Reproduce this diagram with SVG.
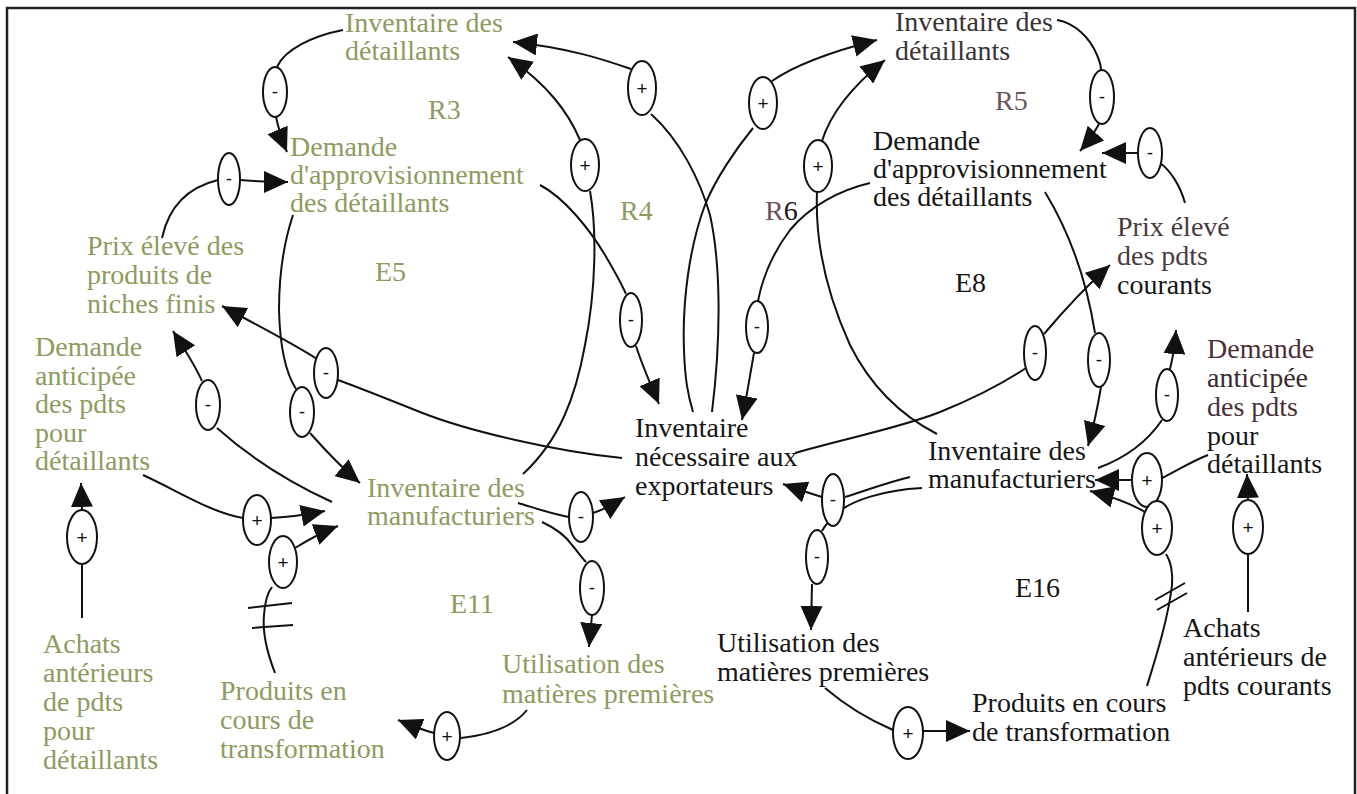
<svg xmlns="http://www.w3.org/2000/svg" width="1357" height="794" viewBox="0 0 1357 794">
  <defs>
    <marker id="ah" viewBox="0 0 24 22" refX="24" refY="11" markerWidth="24" markerHeight="22" markerUnits="userSpaceOnUse" orient="auto">
      <path d="M0,0 L24,11 L0,22 Z" fill="#111"/>
    </marker>
    <style>
      .lbl { font-family: "Liberation Serif", "Times New Roman", serif; font-size: 28px; }
      .g { fill: #8d9b5f; }
      .k { fill: #161616; }
      .wire { fill: none; stroke: #111; stroke-width: 2; }
      .arr { marker-end: url(#ah); }
      .pol ellipse { fill: #fff; stroke: #111; stroke-width: 2; }
      .pol text { font-family: "Liberation Sans", Arial, sans-serif; font-size: 19px; text-anchor: middle; fill: #111; }
      .frame { fill: none; stroke: #222; stroke-width: 2.5; }
    </style>
  </defs>

  <rect width="1357" height="794" fill="#fff"/>
  <path class="frame" d="M7,794 L7,8 L1355,8 L1355,794"/>

  <!-- causal links -->
  <g id="connectors">
    <!-- links: source -> polarity oval -> target -->
    <path class="wire" d="M343,30 C312,36 284,50 277,67"/>
    <path class="wire arr" d="M276,117 C278,126 281,138 287,152"/>

    <path class="wire" d="M162,238 C168,210 185,188 218,180"/>
    <path class="wire arr" d="M240,180 C255,181 268,182 288,182"/>

    <path class="wire" d="M293,215 C283,245 279,280 279,310 C280,350 287,375 296,389"/>
    <path class="wire arr" d="M310,433 C325,450 342,468 360,483"/>

    <path class="wire" d="M622,458 C560,452 470,432 420,412 C380,396 352,385 338,380"/>
    <path class="wire arr" d="M317,359 C292,343 262,328 222,306"/>

    <path class="wire" d="M332,502 C295,485 255,462 217,428"/>
    <path class="wire arr" d="M202,381 C195,365 185,350 173,331"/>

    <path class="wire" d="M143,475 C180,492 210,512 243,518"/>
    <path class="wire arr" d="M271,518 C290,517 305,515 325,511"/>

    <path class="wire" d="M275,673 C268,655 262,635 264,615 C265,600 268,592 272,587"/>
    <path class="wire" d="M248,608 L292,603 M252,628 L293,625"/>
    <path class="wire arr" d="M295,548 C308,540 322,532 338,526"/>

    <path class="wire" d="M82,618 L82,564"/>
    <path class="wire arr" d="M82,510 L81,483"/>

    <path class="wire" d="M518,503 C535,508 552,514 569,517"/>
    <path class="wire arr" d="M593,513 C603,510 612,505 625,497"/>

    <path class="wire" d="M542,522 C555,528 565,535 572,545 C578,552 582,558 586,562"/>
    <path class="wire arr" d="M592,615 L589,647"/>

    <path class="wire" d="M527,710 C515,725 495,734 461,738"/>
    <path class="wire arr" d="M434,733 C422,730 410,725 398,720"/>

    <path class="wire arr" d="M631,69 C605,60 570,48 513,42"/>
    <path class="wire" d="M651,114 C680,140 700,180 710,215 C720,260 722,330 712,412"/>

    <path class="wire arr" d="M772,81 C795,65 830,52 877,40"/>
    <path class="wire" d="M753,128 C735,150 715,180 705,205 C690,245 682,300 684,350 C685,380 688,395 693,412"/>

    <path class="wire arr" d="M580,140 C568,112 548,85 508,57"/>
    <path class="wire" d="M590,191 C597,230 596,290 585,345 C576,395 560,440 523,474"/>

    <path class="wire" d="M540,185 C565,198 590,230 605,255 C615,272 622,285 626,294"/>
    <path class="wire arr" d="M636,346 C642,365 650,383 659,404"/>

    <path class="wire" d="M870,183 C840,190 810,206 790,230 C772,254 762,280 758,301"/>
    <path class="wire arr" d="M754,353 C750,375 747,395 742,420"/>

    <path class="wire arr" d="M822,141 C830,115 850,88 885,60"/>
    <path class="wire" d="M817,192 C815,240 825,290 850,345 C870,385 900,415 937,434"/>

    <path class="wire" d="M1045,192 C1065,225 1085,270 1095,333"/>
    <path class="wire arr" d="M1101,387 C1098,405 1094,425 1088,446"/>

    <path class="wire" d="M795,453 C850,437 900,428 940,412 C975,398 1005,382 1026,368"/>
    <path class="wire arr" d="M1044,334 C1060,315 1080,292 1110,265"/>

    <path class="wire" d="M1098,468 C1120,460 1145,445 1162,420"/>
    <path class="wire arr" d="M1170,369 C1173,357 1175,345 1176,330"/>

    <path class="wire" d="M1208,455 C1190,462 1175,472 1162,478"/>
    <path class="wire arr" d="M1132,480 L1095,480"/>

    <path class="wire" d="M1147,686 C1155,660 1168,620 1172,585 C1173,570 1170,560 1166,554"/>
    <path class="wire" d="M1155,600 L1185,583 M1157,610 L1187,593"/>
    <path class="wire arr" d="M1145,512 C1128,502 1110,496 1090,491"/>

    <path class="wire" d="M1248,612 L1248,555"/>
    <path class="wire arr" d="M1248,500 L1247,474"/>

    <path class="wire" d="M910,477 C885,483 862,492 845,497"/>
    <path class="wire arr" d="M822,497 C812,494 800,490 783,484"/>

    <path class="wire" d="M922,488 C885,490 850,500 835,515 C828,522 824,527 822,531"/>
    <path class="wire arr" d="M812,584 L811,630"/>

    <path class="wire" d="M825,688 C845,705 865,718 893,730"/>
    <path class="wire arr" d="M923,731 L970,731"/>

    <path class="wire" d="M1057,20 C1075,23 1090,38 1097,55 C1100,62 1101,67 1101,70"/>
    <path class="wire arr" d="M1099,124 C1094,133 1088,142 1080,151"/>

    <path class="wire" d="M1185,203 C1180,185 1170,170 1160,163"/>
    <path class="wire arr" d="M1138,153 L1102,153"/>

    <!-- polarity signs -->
    <g class="pol">
      <ellipse cx="275" cy="92" rx="12" ry="25"/><text x="275" y="98">-</text>
      <ellipse cx="229" cy="179" rx="11" ry="26"/><text x="229" y="185">-</text>
      <ellipse cx="302" cy="412" rx="12" ry="25"/><text x="302" y="418">-</text>
      <ellipse cx="326" cy="373" rx="12" ry="25"/><text x="326" y="379">-</text>
      <ellipse cx="208" cy="405" rx="12" ry="25"/><text x="208" y="411">-</text>
      <ellipse cx="257" cy="520" rx="14" ry="25"/><text x="257" y="527">+</text>
      <ellipse cx="283" cy="562" rx="14" ry="26"/><text x="283" y="569">+</text>
      <ellipse cx="82" cy="537" rx="15" ry="27"/><text x="82" y="544">+</text>
      <ellipse cx="581" cy="517" rx="12" ry="25"/><text x="581" y="523">-</text>
      <ellipse cx="592" cy="588" rx="12" ry="27"/><text x="592" y="594">-</text>
      <ellipse cx="447" cy="736" rx="13" ry="24"/><text x="447" y="743">+</text>
      <ellipse cx="642" cy="88" rx="14" ry="27"/><text x="642" y="95">+</text>
      <ellipse cx="763" cy="103" rx="14" ry="26"/><text x="763" y="110">+</text>
      <ellipse cx="585" cy="165" rx="14" ry="26"/><text x="585" y="172">+</text>
      <ellipse cx="631" cy="320" rx="11" ry="27"/><text x="631" y="326">-</text>
      <ellipse cx="757" cy="327" rx="11" ry="26"/><text x="757" y="333">-</text>
      <ellipse cx="818" cy="166" rx="14" ry="26"/><text x="818" y="173">+</text>
      <ellipse cx="1099" cy="360" rx="11" ry="27"/><text x="1099" y="366">-</text>
      <ellipse cx="1035" cy="353" rx="11" ry="27"/><text x="1035" y="359">-</text>
      <ellipse cx="1167" cy="395" rx="11" ry="26"/><text x="1167" y="401">-</text>
      <ellipse cx="1147" cy="480" rx="15" ry="27"/><text x="1147" y="487">+</text>
      <ellipse cx="1157" cy="528" rx="15" ry="27"/><text x="1157" y="535">+</text>
      <ellipse cx="1248" cy="527" rx="15" ry="27"/><text x="1248" y="534">+</text>
      <ellipse cx="833" cy="500" rx="11" ry="26"/><text x="833" y="506">-</text>
      <ellipse cx="817" cy="557" rx="11" ry="27"/><text x="817" y="563">-</text>
      <ellipse cx="908" cy="733" rx="15" ry="26"/><text x="908" y="740">+</text>
      <ellipse cx="1102" cy="97" rx="12" ry="27"/><text x="1102" y="103">-</text>
      <ellipse cx="1150" cy="153" rx="12" ry="25"/><text x="1150" y="159">-</text>
    </g>
  </g>

  <!-- variables -->
  <g id="n-inv-det-l"><text class="lbl g" font-size="29"><tspan x="345" y="32">Inventaire des</tspan><tspan x="345" y="60">détaillants</tspan></text></g>
  <g id="n-dem-appro-l"><text class="lbl g" font-size="29"><tspan x="290" y="156">Demande</tspan><tspan x="290" y="184">d'approvisionnement</tspan><tspan x="290" y="212">des détaillants</tspan></text></g>
  <g id="n-prix-niches"><text class="lbl g"><tspan x="87" y="255">Prix élevé des</tspan><tspan x="87" y="284">produits de</tspan><tspan x="87" y="313">niches finis</tspan></text></g>
  <g id="n-dem-antic-l"><text class="lbl g" font-size="29"><tspan x="35" y="356">Demande</tspan><tspan x="35" y="385">anticipée</tspan><tspan x="35" y="413">des pdts</tspan><tspan x="35" y="442">pour</tspan><tspan x="35" y="470">détaillants</tspan></text></g>
  <g id="n-achats-l"><text class="lbl g" font-size="29"><tspan x="43" y="653">Achats</tspan><tspan x="43" y="682">antérieurs</tspan><tspan x="43" y="711">de pdts</tspan><tspan x="43" y="740">pour</tspan><tspan x="43" y="769">détaillants</tspan></text></g>
  <g id="n-produits-l"><text class="lbl g" font-size="27.5"><tspan x="220" y="700">Produits en</tspan><tspan x="220" y="729">cours de</tspan><tspan x="220" y="758">transformation</tspan></text></g>
  <g id="n-inv-manu-l"><text class="lbl g" font-size="27.5"><tspan x="367" y="497">Inventaire des</tspan><tspan x="367" y="525">manufacturiers</tspan></text></g>
  <g id="n-util-l"><text class="lbl g"><tspan x="502" y="673">Utilisation des</tspan><tspan x="502" y="703">matières premières</tspan></text></g>

  <g id="n-inv-export"><text class="lbl k" font-size="27.5"><tspan x="635" y="437">Inventaire</tspan><tspan x="635" y="466">nécessaire aux</tspan><tspan x="635" y="495">exportateurs</tspan></text></g>

  <g id="n-inv-det-r"><text class="lbl" fill="#3a3336" font-size="28.5"><tspan x="895" y="31">Inventaire des</tspan><tspan x="895" y="60">détaillants</tspan></text></g>
  <g id="n-dem-appro-r"><text class="lbl k"><tspan x="873" y="150">Demande</tspan><tspan x="873" y="178">d'approvisionnement</tspan><tspan x="873" y="206">des détaillants</tspan></text></g>
  <g id="n-prix-courants"><text class="lbl" font-size="28.5"><tspan x="1117" y="236" fill="#4a3a40">Prix élevé</tspan><tspan x="1117" y="265" fill="#4a3a40">des pdts</tspan><tspan x="1117" y="294" fill="#161616">courants</tspan></text></g>
  <g id="n-dem-antic-r"><text class="lbl"><tspan x="1207" y="358" fill="#4a3036">Demande</tspan><tspan x="1207" y="387" fill="#3a2a30">anticipée</tspan><tspan x="1207" y="416" fill="#4a3036">des pdts</tspan><tspan x="1207" y="445" fill="#161616">pour</tspan><tspan x="1207" y="473" fill="#161616">détaillants</tspan></text></g>
  <g id="n-inv-manu-r"><text class="lbl k" font-size="27.8"><tspan x="928" y="460">Inventaire des</tspan><tspan x="928" y="488">manufacturiers</tspan></text></g>
  <g id="n-util-r"><text class="lbl k" font-size="27.7"><tspan x="717" y="652">Utilisation des</tspan><tspan x="717" y="681">matières premières</tspan></text></g>
  <g id="n-produits-r"><text class="lbl k" font-size="27.7"><tspan x="972" y="712">Produits en cours</tspan><tspan x="972" y="741">de transformation</tspan></text></g>
  <g id="n-achats-r"><text class="lbl k"><tspan x="1183" y="637">Achats</tspan><tspan x="1183" y="666">antérieurs de</tspan><tspan x="1183" y="695">pdts courants</tspan></text></g>

  <!-- loop names -->
  <g id="loop-r3"><text class="lbl g" x="428" y="119">R3</text></g>
  <g id="loop-r4"><text class="lbl g" x="620" y="220">R4</text></g>
  <g id="loop-r6"><text class="lbl k" x="765" y="220"><tspan fill="#6e5256">R</tspan>6</text></g>
  <g id="loop-r5"><text class="lbl" fill="#6a5560" x="995" y="110">R5</text></g>
  <g id="loop-e5"><text class="lbl g" x="375" y="281">E5</text></g>
  <g id="loop-e8"><text class="lbl k" x="955" y="292">E8</text></g>
  <g id="loop-e11"><text class="lbl g" x="450" y="613">E11</text></g>
  <g id="loop-e16"><text class="lbl k" x="1015" y="597">E16</text></g>
</svg>
